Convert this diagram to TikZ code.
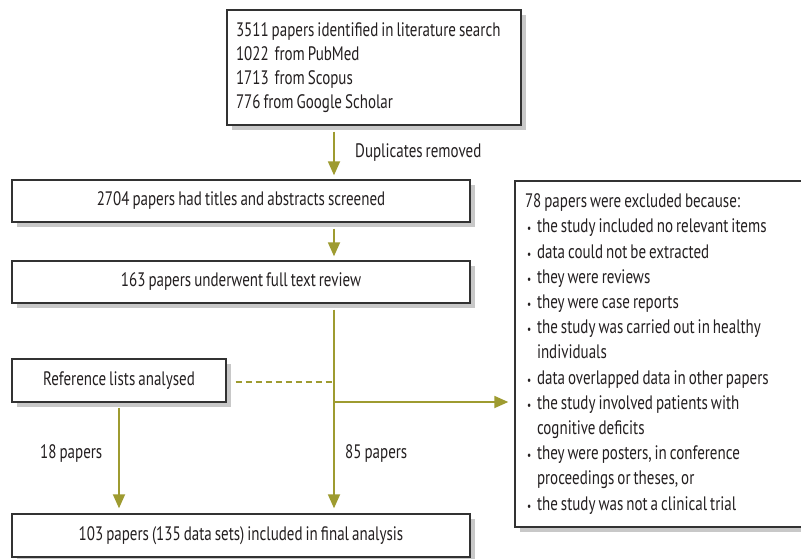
\documentclass[tikz,border=0pt]{standalone}
\usepackage{fontspec}
\setmainfont[FakeStretch=0.77,WordSpace=0.75]{PT Sans}
\usetikzlibrary{arrows.meta,shadows}
\definecolor{olivearrow}{RGB}{158,155,48}
\definecolor{boxline}{RGB}{50,50,50}
\definecolor{shadegray}{RGB}{200,200,200}
\definecolor{txt}{RGB}{35,31,32}
\newcommand\xbul{\makebox[12pt][l]{\hspace{2pt}{\fontsize{12}{12}\selectfont •}}}
\newcommand\xind{\hspace*{12pt}}
\begin{document}
\begin{tikzpicture}[x=1pt,y=-1pt,
  box/.style={draw=boxline, line width=1.4pt, fill=white, inner sep=0pt,
    drop shadow={shadow xshift=5pt,shadow yshift=-5pt,fill=shadegray,opacity=1},
    text=txt, font=\fontsize{19.5}{24}\selectfont},
  flow/.style={draw=olivearrow, line width=1.8pt, -{Triangle[width=12pt,length=14pt]}},
  lbl/.style={anchor=west, inner sep=0pt, text=txt, font=\fontsize{19.5}{24}\selectfont}]
\useasboundingbox (0,0) rectangle (801,558);
\clip (0,0) rectangle (801,558);
\fill[white] (0,0) rectangle (801,558);

\node[box, minimum width=294pt, minimum height=115pt, text width=276pt, inner xsep=9pt, align=flush left]
  (top) at (374,67.5) {3511 papers identified in literature search\\1022\ \ from PubMed\\1713\ \ from Scopus\\776 from Google Scholar};
\node[box, minimum width=458pt, minimum height=42pt] (screen) at (241,201) {2704 papers had titles and abstracts screened};
\node[box, minimum width=458pt, minimum height=42pt] (full) at (241,282) {163 papers underwent full text review};
\node[box, minimum width=214pt, minimum height=43pt] (ref) at (119,380.5) {Reference lists analysed};
\node[box, minimum width=458pt, minimum height=43pt] (final) at (241,535.5) {103 papers (135 data sets) included in final analysis};
\node[box, minimum width=291pt, minimum height=346pt, text width=271pt, inner xsep=10pt, align=flush left,
  font=\fontsize{19.5}{25.2}\selectfont] (excl) at (660.5,354) {78 papers were excluded because:\\
\xbul the study included no relevant items\\
\xbul data could not be extracted\\
\xbul they were reviews\\
\xbul they were case reports\\
\xbul the study was carried out in healthy\\
\xind individuals\\
\xbul data overlapped data in other papers\\
\xbul the study involved patients with\\
\xind cognitive deficits\\
\xbul they were posters, in conference\\
\xind proceedings or theses, or\\
\xbul the study was not a clinical trial};

\coordinate (mx) at (334,0);
\coordinate (br) at (334,402);

\draw[flow, shorten >=4pt] ([yshift=-6pt]top.south -| mx) -- (screen.north -| mx);
\draw[flow, shorten >=4pt] ([yshift=-6pt]screen.south -| mx) -- (full.north -| mx);
\draw[flow, shorten >=5pt] ([yshift=-6pt]full.south -| mx) -- (final.north -| mx);
\draw[flow, shorten >=6pt] (br) -- (excl.west |- br);
\draw[flow, shorten >=5pt] ([yshift=-5pt]ref.south) -- (final.north -| ref.south);
\draw[draw=olivearrow, line width=1.2pt, dash pattern=on 6pt off 4pt] ([xshift=9pt,yshift=-1.5pt]ref.east) -- ([yshift=-1.5pt]ref.east -| mx);

\node[lbl] (dup) at (355,153) {Duplicates removed};
\node[lbl] (l18) at (40,453) {18 papers};
\node[lbl] (l85) at (345,453) {85 papers};
\end{tikzpicture}
\end{document}
